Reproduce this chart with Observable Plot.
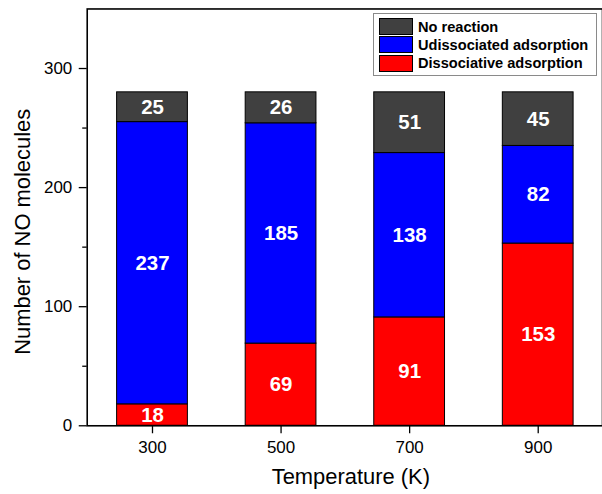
<!DOCTYPE html>
<html><head><meta charset="utf-8">
<script src="https://cdn.jsdelivr.net/npm/d3@7"></script>
<script src="https://cdn.jsdelivr.net/npm/@observablehq/plot@0.6"></script>
<style>
html,body{margin:0;padding:0;overflow:hidden;background:#fff;}
#wrap{position:relative;width:602px;height:494px;overflow:hidden;}
#wrap svg{display:block;}
.legend{position:absolute;left:373px;top:13px;width:224px;height:63px;border:1px solid #8a8a8a;background:#fff;box-sizing:border-box;font-family:"Liberation Sans",Arial,sans-serif;font-weight:bold;font-size:14.6px;color:#000;}
.row{position:absolute;left:5px;height:17px;display:flex;align-items:center;white-space:nowrap;}
.sw{width:34px;height:17px;border:1px solid #000;margin-right:5px;box-sizing:border-box;}
</style></head><body><div id="wrap"></div>
<script>
const temperatures = [300, 500, 700, 900];
const seriesNames = ["Dissociative adsorption", "Udissociated adsorption", "No reaction"];
const seriesColors = ["#ff0000", "#0000ff", "#404040"];
const dissociative = [18, 69, 91, 153];
const undissociated = [237, 185, 138, 82];
const noReaction = [25, 26, 51, 45];
const yTicks = [0, 100, 200, 300];
const yMinorTicks = [50, 150, 250];
const xTitle = "Temperature (K)";
const yTitle = "Number of NO molecules";

const seriesValues = [dissociative, undissociated, noReaction];
const rows = [];
temperatures.forEach((t, i) => {
  seriesNames.forEach((s, j) => rows.push({temp: t, series: s, value: seriesValues[j][i]}));
});

const chart = Plot.plot({
  width: 604,
  height: 494,
  marginLeft: 87,
  marginRight: 0,
  marginTop: 8.5,
  marginBottom: 67.3,
  style: {fontFamily: "'Liberation Sans', Arial, sans-serif", fontSize: "17px", color: "#000", background: "#fff"},
  x: {type: "band", domain: temperatures, paddingInner: 0.45, paddingOuter: 0.225},
  y: {domain: [0, 350]},
  color: {domain: seriesNames, range: seriesColors},
  marks: [
    Plot.barY(rows, {x: "temp", y: "value", z: "series", fill: "series", order: seriesNames, stroke: "#000", strokeWidth: 1}),
    Plot.text(rows, Plot.stackY({x: "temp", y: "value", z: "series", order: seriesNames, text: d => String(d.value), fill: "white", fontWeight: "bold", fontSize: 20.5})),
    Plot.frame({stroke: "#000", strokeWidth: 1.6}),
    Plot.axisX({tickSize: 8, tickPadding: 7, label: null, fontSize: 17, strokeWidth: 1.3}),
    Plot.axisY(yTicks, {tickSize: 8, tickPadding: 7, label: null, fontSize: 17, strokeWidth: 1.3}),
    Plot.axisY(yMinorTicks, {tickSize: 4.5, tickFormat: () => "", label: null, strokeWidth: 1.3}),
    Plot.text([xTitle], {text: d => d, frameAnchor: "bottom", textAnchor: "middle", dx: 6, dy: 51, fontSize: 22, lineAnchor: "middle"}),
    Plot.text([yTitle], {text: d => d, frameAnchor: "left", textAnchor: "middle", dx: -64, dy: 14.5, rotate: -90, fontSize: 22, lineAnchor: "middle"})
  ]
});
const wrap = document.getElementById("wrap");
wrap.appendChild(chart);

const legend = document.createElement("div");
legend.className = "legend";
[2, 1, 0].forEach((j, k) => {
  const row = document.createElement("div");
  row.className = "row";
  row.style.top = (4 + k * 18.3) + "px";
  const sw = document.createElement("span");
  sw.className = "sw";
  sw.style.background = seriesColors[j];
  const label = document.createElement("span");
  label.textContent = seriesNames[j];
  row.appendChild(sw);
  row.appendChild(label);
  legend.appendChild(row);
});
wrap.appendChild(legend);
</script></body></html>
